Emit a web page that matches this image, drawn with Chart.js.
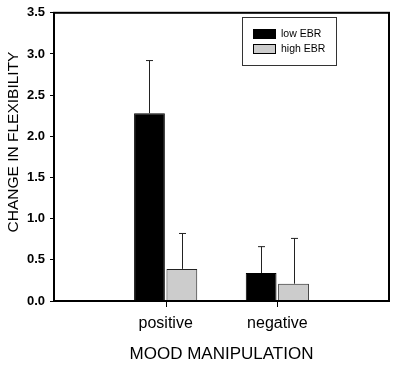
<!DOCTYPE html>
<html>
<head>
    <meta charset="utf-8">
    <script src="https://cdn.jsdelivr.net/npm/chart.js"></script>
    <style>
        html, body { margin: 0; padding: 0; background: #ffffff; }
        #wrap { width: 397px; height: 367px; }
    </style>
</head>
<body>
    <div id="wrap"><canvas id="moodChart"></canvas></div>

    <script>
        // values
        const moods = ['positive', 'negative'];
        const lowEbr = [2.28, 0.34];
        const lowEbrErr = [0.64, 0.32];
        const highEbr = [0.39, 0.21];
        const highEbrErr = [0.43, 0.55];
        const seriesNames = ['low EBR', 'high EBR'];
        const yTicks = [0, 0.5, 1.0, 1.5, 2.0, 2.5, 3.0, 3.5];

        // empty slots either side so the groups sit at 1/3 and 2/3 of the axis
        const labels = ['', ...moods, ''];
        const pad = arr => [null, ...arr, null];

        // error bars (upper only), legend box, frame and y title
        const extras = {
            id: 'extras',
            afterDatasetsDraw(chart) {
                const ctx = chart.ctx;
                const y = chart.scales.y;
                const errs = [lowEbrErr, highEbrErr];
                ctx.save();
                ctx.strokeStyle = '#222';
                ctx.lineWidth = 1;
                chart.data.datasets.forEach((ds, i) => {
                    chart.getDatasetMeta(i).data.forEach((bar, j) => {
                        if (ds.data[j] == null) return;
                        const e = errs[i][j - 1];
                        const x = Math.round(bar.x) + 0.5;
                        const top = y.getPixelForValue(ds.data[j] + e);
                        ctx.beginPath();
                        ctx.moveTo(x, bar.y);
                        ctx.lineTo(x, top);
                        ctx.moveTo(x - 3.5, top);
                        ctx.lineTo(x + 3.5, top);
                        ctx.stroke();
                    });
                });
                ctx.restore();
            },
            afterDraw(chart) {
                const ctx = chart.ctx;
                const a = chart.chartArea;
                ctx.save();
                // frame
                ctx.strokeStyle = '#000';
                ctx.lineWidth = 2;
                ctx.strokeRect(a.left, a.top, a.right - a.left, a.bottom - a.top);

                // category tick marks below the x axis
                ctx.lineWidth = 1;
                chart.scales.x.ticks.forEach((t, i) => {
                    if (!labels[i]) return;
                    const tx = Math.round(chart.scales.x.getPixelForTick(i)) + 0.5;
                    ctx.beginPath();
                    ctx.moveTo(tx, a.bottom);
                    ctx.lineTo(tx, a.bottom + 6);
                    ctx.stroke();
                });

                // legend
                ctx.strokeStyle = '#333';
                ctx.strokeRect(242.5, 17.5, 94, 48);
                ctx.font = '10.5px "Liberation Sans", Arial, sans-serif';
                ctx.textBaseline = 'middle';
                chart.data.datasets.forEach((ds, i) => {
                    const sy = 29 + i * 15;
                    ctx.fillStyle = ds.backgroundColor;
                    ctx.fillRect(253, sy, 23, 10);
                    ctx.strokeStyle = '#000';
                    ctx.strokeRect(253.5, sy + 0.5, 22, 9);
                    ctx.fillStyle = '#000';
                    ctx.fillText(ds.label, 281, sy + 5);
                });

                // y title
                ctx.translate(14, 142);
                ctx.rotate(-Math.PI / 2);
                ctx.font = '15.5px "Liberation Sans", Arial, sans-serif';
                ctx.textAlign = 'center';
                ctx.textBaseline = 'middle';
                ctx.fillStyle = '#000';
                ctx.fillText('CHANGE IN FLEXIBILITY', 0, 0);
                ctx.restore();
            }
        };

        new Chart(document.getElementById('moodChart'), {
            type: 'bar',
            data: {
                labels: labels,
                datasets: [{
                    label: seriesNames[0],
                    data: pad(lowEbr),
                    backgroundColor: '#000000',
                    borderColor: '#000000',
                    borderWidth: 1
                }, {
                    label: seriesNames[1],
                    data: pad(highEbr),
                    backgroundColor: '#cccccc',
                    borderColor: '#222222',
                    borderWidth: 1
                }]
            },
            options: {
                responsive: true,
                maintainAspectRatio: false,
                animation: false,
                layout: { padding: { left: 0, right: 7, top: 9, bottom: 0 } },
                plugins: {
                    legend: { display: false },
                    tooltip: { enabled: false }
                },
                datasets: {
                    bar: { categoryPercentage: 0.58, barPercentage: 0.95 }
                },
                scales: {
                    x: {
                        offset: false,
                        grid: {
                            offset: false,
                            drawOnChartArea: false,
                            drawTicks: true,
                            tickLength: 5,
                            tickColor: 'rgba(0,0,0,0)'
                        },
                        border: { display: true, color: '#000', width: 2 },
                        ticks: {
                            color: '#000',
                            padding: 8,
                            maxRotation: 0,
                            autoSkip: false,
                            font: { family: '"Liberation Sans", Arial, sans-serif', size: 16 }
                        },
                        title: {
                            display: true,
                            text: 'MOOD MANIPULATION',
                            color: '#000',
                            padding: { top: 0, bottom: 2 },
                            font: { family: '"Liberation Sans", Arial, sans-serif', size: 17 }
                        },
                        afterFit: s => { s.height = 66; }
                    },
                    y: {
                        min: 0,
                        max: 3.5,
                        afterBuildTicks: s => { s.ticks = yTicks.map(v => ({ value: v })); },
                        grid: {
                            drawOnChartArea: false,
                            drawTicks: true,
                            tickLength: 4,
                            tickColor: '#000'
                        },
                        border: { display: true, color: '#000', width: 2 },
                        ticks: {
                            color: '#000',
                            padding: 5,
                            callback: v => Number(v).toFixed(1),
                            font: { family: '"Liberation Sans", Arial, sans-serif', size: 13, weight: 'bold' }
                        },
                        afterFit: s => { s.width = 54; }
                    }
                }
            },
            plugins: [extras]
        });
    </script>
</body>
</html>
